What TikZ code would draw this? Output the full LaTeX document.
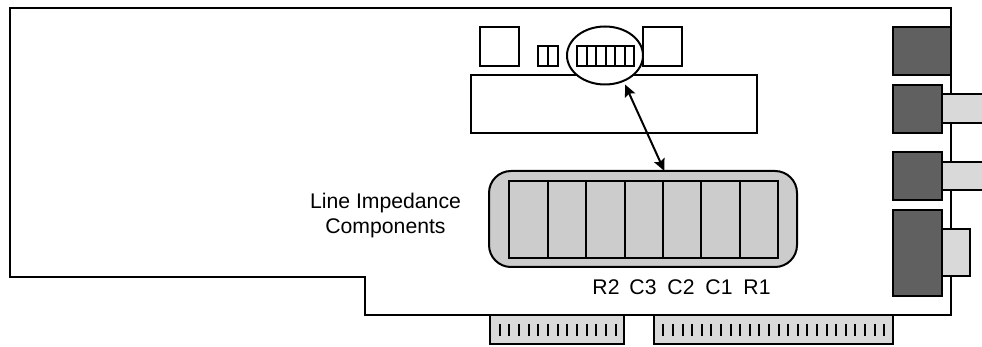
\documentclass[tikz,border=0pt]{standalone}
\usepackage{fontspec}
\setmainfont{Liberation Sans}
\usetikzlibrary{arrows.meta,shapes.geometric}
\definecolor{darkchip}{HTML}{606060}
\definecolor{lighttab}{HTML}{D9D9D9}
\definecolor{compgray}{HTML}{CCCCCC}
\tikzset{
  every path/.style={line width=2pt},
  part/.style={draw=black,fill=white,line join=miter},
  jack/.style={draw=black,fill=darkchip},
  tab/.style={draw=black,fill=lighttab},
  comp/.style={draw=black,fill=compgray},
  pin/.style={draw=black,line width=1.8pt},
  lbl/.style={font=\fontsize{21.2}{25}\selectfont,inner sep=0pt,text=black,align=center}
}
\begin{document}
\begin{tikzpicture}[x=1pt,y=-1pt]
\useasboundingbox (0,0) rectangle (982,347);
% board outline
\draw[part] (10,8) -- (951,8) -- (951,315) -- (365,315) -- (365,277) -- (10,277) -- cycle;
% top chips
\draw[part] (471,75) rectangle (757,133);
\node[part,ellipse,minimum width=76pt,minimum height=58pt,inner sep=0pt,outer sep=0pt] (ell) at (605,55.5) {};
\draw[part] (480,27) rectangle (519,66);
\draw[part] (643,27) rectangle (682,66);
\draw[part] (538,46) rectangle (558,66);
\draw (548,46) -- (548,66);
\draw[part] (577,46) rectangle (634,66);
\foreach \x in {587,596,606,615,625} \draw (\x,46) -- (\x,66);
% line impedance components
\node[comp,rectangle,rounded corners=22pt,minimum width=308pt,minimum height=96pt,inner sep=0pt,outer sep=0pt] (rr) at (643,219) {};
\draw[comp] (509,181) rectangle (778,258);
\foreach \x in {548,586,625,663,701,740} \draw (\x,181) -- (\x,258);
\draw[{Stealth[length=12pt,width=11pt,inset=2pt]}-{Stealth[length=12pt,width=11pt,inset=2pt]},shorten <=4pt] (ell.-54) -- (rr.66.4);
% rear jacks
\draw[tab] (942,94) rectangle (990,123);
\draw[tab] (942,162) rectangle (990,190);
\draw[tab] (942,229) rectangle (970,276);
\draw[jack] (893,27) rectangle (951,75);
\draw[jack] (893,85) rectangle (942,133);
\draw[jack] (893,152) rectangle (942,200);
\draw[jack] (893,210) rectangle (942,296);
% edge connectors
\draw[tab] (490,315) rectangle (624,344);
\foreach \i in {0,...,12} \pgfmathsetmacro{\px}{round(499.7+\i*9.67)} \draw[pin] (\px,324) -- (\px,336);
\draw[tab] (654,315) rectangle (893,344);
\foreach \i in {0,...,23} \pgfmathsetmacro{\px}{round(663.3+\i*9.6)} \draw[pin] (\px,324) -- (\px,336);
% labels
\node[lbl] (title) at (385.5,215.5) {Line Impedance\\Components};
\node[lbl] (r2) at (606,287) {R2};
\node[lbl] (c3) at (643,287) {C3};
\node[lbl] (c2) at (681,287) {C2};
\node[lbl] (c1) at (719,287) {C1};
\node[lbl] (r1) at (757,287) {R1};
\end{tikzpicture}
\end{document}
